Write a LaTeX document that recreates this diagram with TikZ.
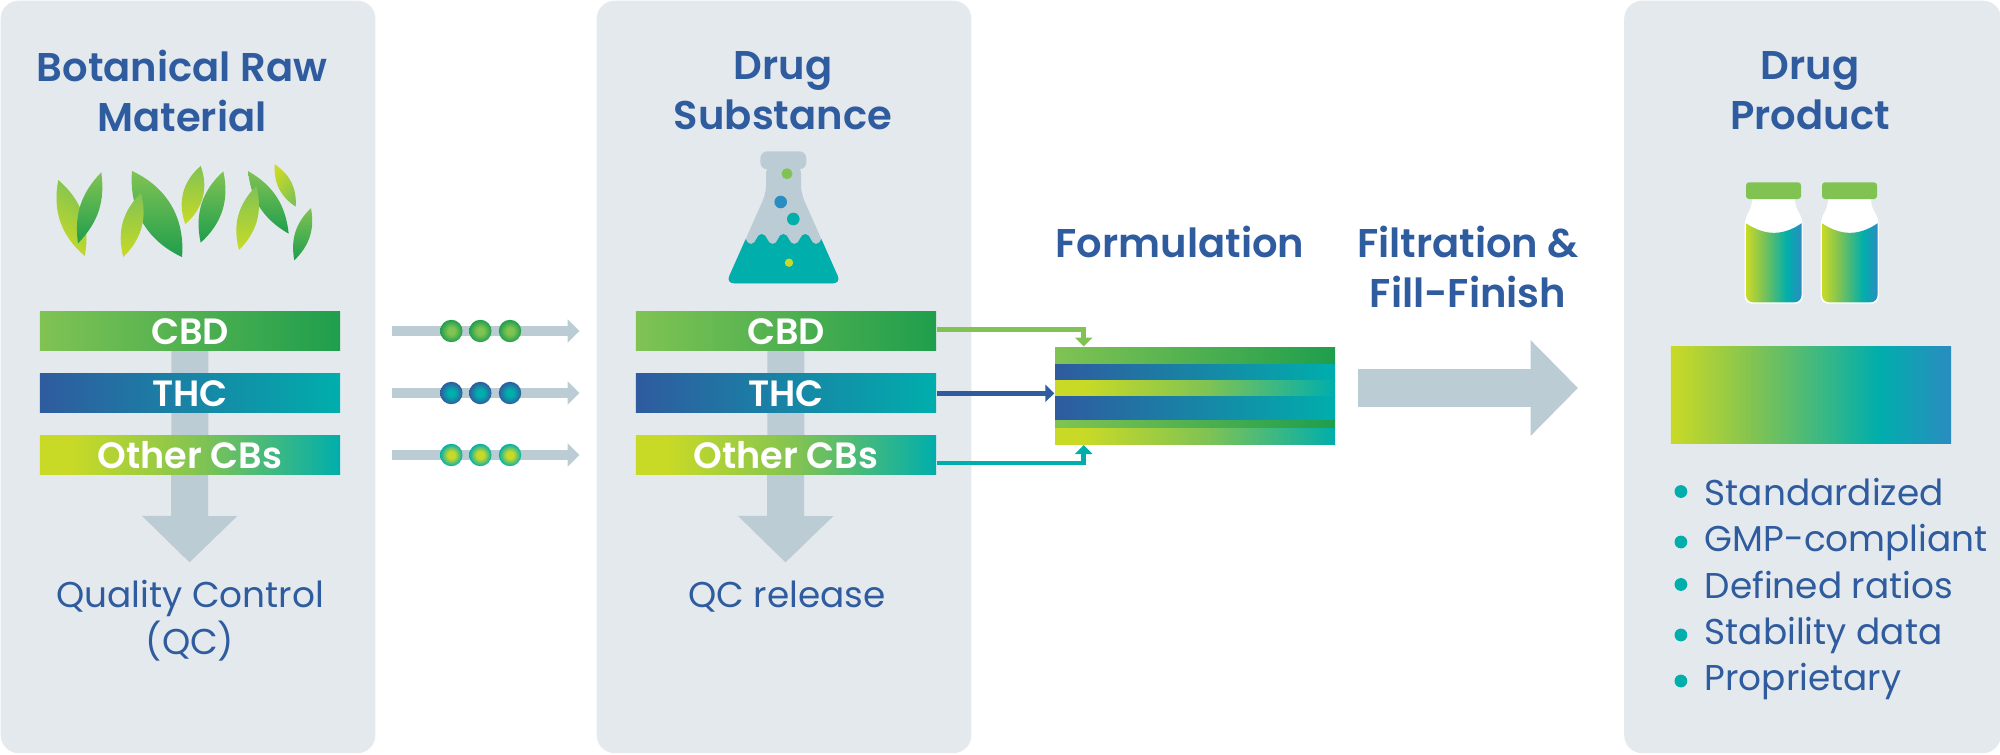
\documentclass[tikz,border=0pt]{standalone}
\usepackage{fontspec}
\setmainfont{Poppins}[BoldFont={Poppins SemiBold}]
\usetikzlibrary{positioning,calc,arrows.meta,backgrounds}

\definecolor{panelgrey}{HTML}{E4E9EE}
\definecolor{arrowgrey}{HTML}{BCCCD4}
\definecolor{inkblue}{HTML}{2F5B9F}
\definecolor{leafdark}{HTML}{1F9E4D}
\definecolor{leaflight}{HTML}{80C353}
\definecolor{leafyellow}{HTML}{C9DA26}
\definecolor{teal}{HTML}{00AEAC}
\definecolor{skyblue}{HTML}{2A8CC0}

\pgfdeclarehorizontalshading{cbdgrad}{100bp}{color(0bp)=(leaflight);color(25bp)=(leaflight);color(75bp)=(leafdark);color(100bp)=(leafdark)}
\pgfdeclarehorizontalshading{thcgrad}{100bp}{color(0bp)=(inkblue);color(25bp)=(inkblue);color(75bp)=(teal);color(100bp)=(teal)}
\pgfdeclarehorizontalshading{othergrad}{100bp}{color(0bp)=(leafyellow);color(30bp)=(leafyellow);color(52bp)=(leaflight);color(75bp)=(teal);color(100bp)=(teal)}
\pgfdeclarehorizontalshading{productgrad}{100bp}{color(0bp)=(leafyellow);color(25bp)=(leafyellow);color(40bp)=(leaflight);color(62bp)=(teal);color(75bp)=(skyblue);color(100bp)=(skyblue)}
\pgfdeclareradialshading{cbddot}{\pgfpoint{0bp}{0bp}}{color(0bp)=(leaflight);color(8bp)=(leaflight);color(25bp)=(leafdark);color(50bp)=(leafdark)}
\pgfdeclareradialshading{thcdot}{\pgfpoint{0bp}{0bp}}{color(0bp)=(teal);color(8bp)=(teal);color(25bp)=(inkblue);color(50bp)=(inkblue)}
\pgfdeclareradialshading{otherdot}{\pgfpoint{0bp}{0bp}}{color(0bp)=(leafyellow);color(8bp)=(leafyellow);color(25bp)=(teal);color(50bp)=(teal)}

\tikzset{
	panel/.style={fill=panelgrey,rounded corners=0.18cm,minimum width=3.745cm,minimum height=7.52cm,anchor=north west,inner sep=0},
	heading/.style={text=inkblue,align=center,font=\fontsize{11.4}{14.2}\selectfont\bfseries,inner sep=0},
	bodytext/.style={text=inkblue,align=center,font=\fontsize{10.2}{13.4}\selectfont,inner sep=0},
	barbox/.style={minimum width=3cm,minimum height=0.39cm,inner sep=0,text=white,font=\fontsize{10.4}{12}\selectfont\bfseries},
	downarrow/.style={arrowgrey,line width=0.37cm,-{Triangle[length=0.465cm,width=0.925cm]}},
	flowarrow/.style={arrowgrey,line width=0.093cm,-{Triangle[length=0.116cm,width=0.226cm]}},
	feed/.style={line width=0.045cm,-{Triangle[length=0.09cm,width=0.17cm]}},
	flowdot/.style={circle,minimum size=0.224cm,inner sep=0},
	stripe/.style={minimum width=2.80cm,inner sep=0,anchor=north west}
}

\begin{document}
\begin{tikzpicture}[x=0.01cm,y=-0.01cm]
	\useasboundingbox (0,0) rectangle (2000,754);
	
	\node[heading] (heada) at (182,90.5) {Botanical Raw\\Material};
	\node[heading] (headb) at (783,90.5) {Drug\\Substance};
	\node[heading] (headc) at (1810,90.5) {Drug\\Product};
	\node[heading] (headform) at (1180,242) {Formulation};
	\node[heading] (headfill) at (1468,267) {Filtration \&\\Fill-Finish};
	
	% leaves
	\foreach \ax/\ay/\bx/\by/\bnd/\cl/\cr/\ang in {
		58.3/180/84.7/256/30/leafyellow/leaflight/145,
		101.3/172.3/78/243.3/26/leaflight/leafdark/0,
		132/171/182/257/35/leaflight/leafdark/0,
		141/193/123.3/257/30/leaflight/leafyellow/0,
		200.7/166/185.3/224/35/leaflight/leafyellow/0,
		223.3/171.3/200.7/242.7/30/leaflight/leafdark/0,
		248/171/288.7/233.7/27/leaflight/leafdark/0,
		256.3/186/239/250/30/leaflight/leafyellow/0,
		274.7/164.3/295.7/206.7/30/leafyellow/leaflight/50,
		311/208/294.3/260.3/28/leaflight/leafdark/0}
	{
		\path[left color=\cl,right color=\cr,shading angle=\ang] (\ax,\ay) to[bend left=\bnd] (\bx,\by) to[bend left=\bnd] (\ax,\ay);
	}
	
	% flask
	\fill[arrowgrey] [rounded corners=0.08cm] (766,165) -- (766,193.3) -- (726,283.3) -- (841,283.3) -- (801,193.3) -- (801,165) -- cycle;
	\fill[arrowgrey,rounded corners=0.07cm] (760.3,151.3) rectangle (806.3,169.3);
	\begin{scope}
		\clip[rounded corners=0.08cm] (766,165) -- (766,193.3) -- (726,283.3) -- (841,283.3) -- (801,193.3) -- (801,165) -- cycle;
		\fill[teal] (740,234) to[out=0,in=180] (751,244) to[out=0,in=180] (761.7,234) to[out=0,in=180] (772.7,244) to[out=0,in=180] (783.3,234) to[out=0,in=180] (794.3,244) to[out=0,in=180] (805.3,234) to[out=0,in=180] (816,244) to[out=0,in=180] (827,234) -- (860,234) -- (860,300) -- (700,300) -- (700,234) -- cycle;
	\end{scope}
	\fill[leaflight] (787,173.7) circle (5.5);
	\fill[skyblue] (780.7,202) circle (6.3);
	\fill[teal] (793.3,219) circle (6.3);
	\fill[leafyellow] (789,262.7) circle (4.2);
	
	% vials
	\foreach \vialx in {0,76}{
		\begin{scope}[shift={(\vialx,0)}]
			\fill[white,rounded corners=0.07cm] (1752,190) -- (1752,207) -- (1744.7,218) -- (1744.7,303.7) -- (1802.7,303.7) -- (1802.7,218) -- (1795,207) -- (1795,190) -- cycle;
			\shade[shading=productgrad] (1746,223.3) .. controls (1765,236) and (1783,236) .. (1801.5,223.3) [rounded corners=0.07cm] -- (1801.5,302.3) -- (1746,302.3) [sharp corners] -- cycle;
			\fill[leaflight,rounded corners=0.03cm] (1746,182.3) rectangle (1801,199);
		\end{scope}
	}
	
	% bars of the first two panels
	\node[barbox,shading=cbdgrad] (cbda) at (190,331.3) {CBD};
	\node[barbox,shading=thcgrad] (thca) at (190,393.3) {THC};
	\node[barbox,shading=othergrad] (othera) at (190,455.3) {Other CBs};
	\node[barbox,shading=cbdgrad] (cbdb) at (786,331.3) {CBD};
	\node[barbox,shading=thcgrad] (thcb) at (786,393.3) {THC};
	\node[barbox,shading=othergrad] (otherb) at (786,455.3) {Other CBs};
	
	\coordinate (tipa) at (189.5,562.5);
	\coordinate (tipb) at (785.5,562.5);
	\begin{pgfonlayer}{background}
		\node[panel] (panela) at (0,0) {};
		\node[panel] (panelb) at (596,0) {};
		\node[panel,minimum width=3.765cm] (panelc) at (1623.5,0) {};
		\draw[downarrow] (cbda.center) -- (tipa);
		\draw[downarrow] (cbdb.center) -- (tipb);
	\end{pgfonlayer}
	
	\node[bodytext] (qca) at (190,621) {Quality Control\\(QC)};
	\node[bodytext] (qcb) at (787,597) {QC release};
	
	% small arrows with dots
	\foreach \nm/\yy/\dotname in {cbd/331/cbddot,thc/393/thcdot,other/455/otherdot}{
		\coordinate (start\nm) at (392,\yy);
		\coordinate (end\nm) at (579.3,\yy);
		\draw[flowarrow] (start\nm) -- (end\nm);
		\foreach \xx in {451.3,480.3,510}{
			\node[flowdot,shading=\dotname] (dot\nm\xx) at (\xx,\yy) {};
		}
	}
	
	% formulation stack
	\node[stripe,minimum height=0.17cm,shading=cbdgrad] (stripea) at (1054.3,347) {};
	\node[stripe,minimum height=0.16cm,shading=thcgrad] (stripeb) at (1054.3,364) {};
	\node[stripe,minimum height=0.16cm,shading=othergrad] (stripec) at (1054.3,380) {};
	\node[stripe,minimum height=0.237cm,shading=thcgrad] (striped) at (1054.3,396) {};
	\node[stripe,minimum height=0.083cm,shading=cbdgrad] (stripee) at (1054.3,419.7) {};
	\node[stripe,minimum height=0.153cm,shading=othergrad] (stripef) at (1054.3,428) {};
	
	\coordinate (feedtop) at (1083.7,346.5);
	\coordinate (feedbot) at (1083.7,445);
	\draw[feed,leaflight] ($(cbdb.east)+(0,-2)$) -| (feedtop);
	\draw[feed,inkblue] (thcb.east) -- (stripec.west |- thcb.east);
	\draw[feed,teal] ($(otherb.east)+(0,7.7)$) -| (feedbot);
	
	% big arrow
	\coordinate (bigstart) at (1358,388);
	\coordinate (bigtip) at (1578,388);
	\draw[arrowgrey,line width=0.374cm,-{Triangle[length=0.474cm,width=0.93cm]}] (bigstart) -- (bigtip);
	
	% product
	\node[minimum width=2.8cm,minimum height=0.966cm,inner sep=0,shading=productgrad] (product) at (1811,395) {};
	\foreach \nn/\yy/\tt in {a/505/Standardized,b/551/GMP-compliant,c/598/Defined ratios,d/644/Stability data,e/690/Proprietary}{
		\node[bodytext,anchor=base west] (item\nn) at (1704,\yy) {\tt};
		\node[circle,fill=teal,minimum size=0.128cm,inner sep=0,left=0.16cm of item\nn.west] (bullet\nn) {};
	}
\end{tikzpicture}
\end{document}
